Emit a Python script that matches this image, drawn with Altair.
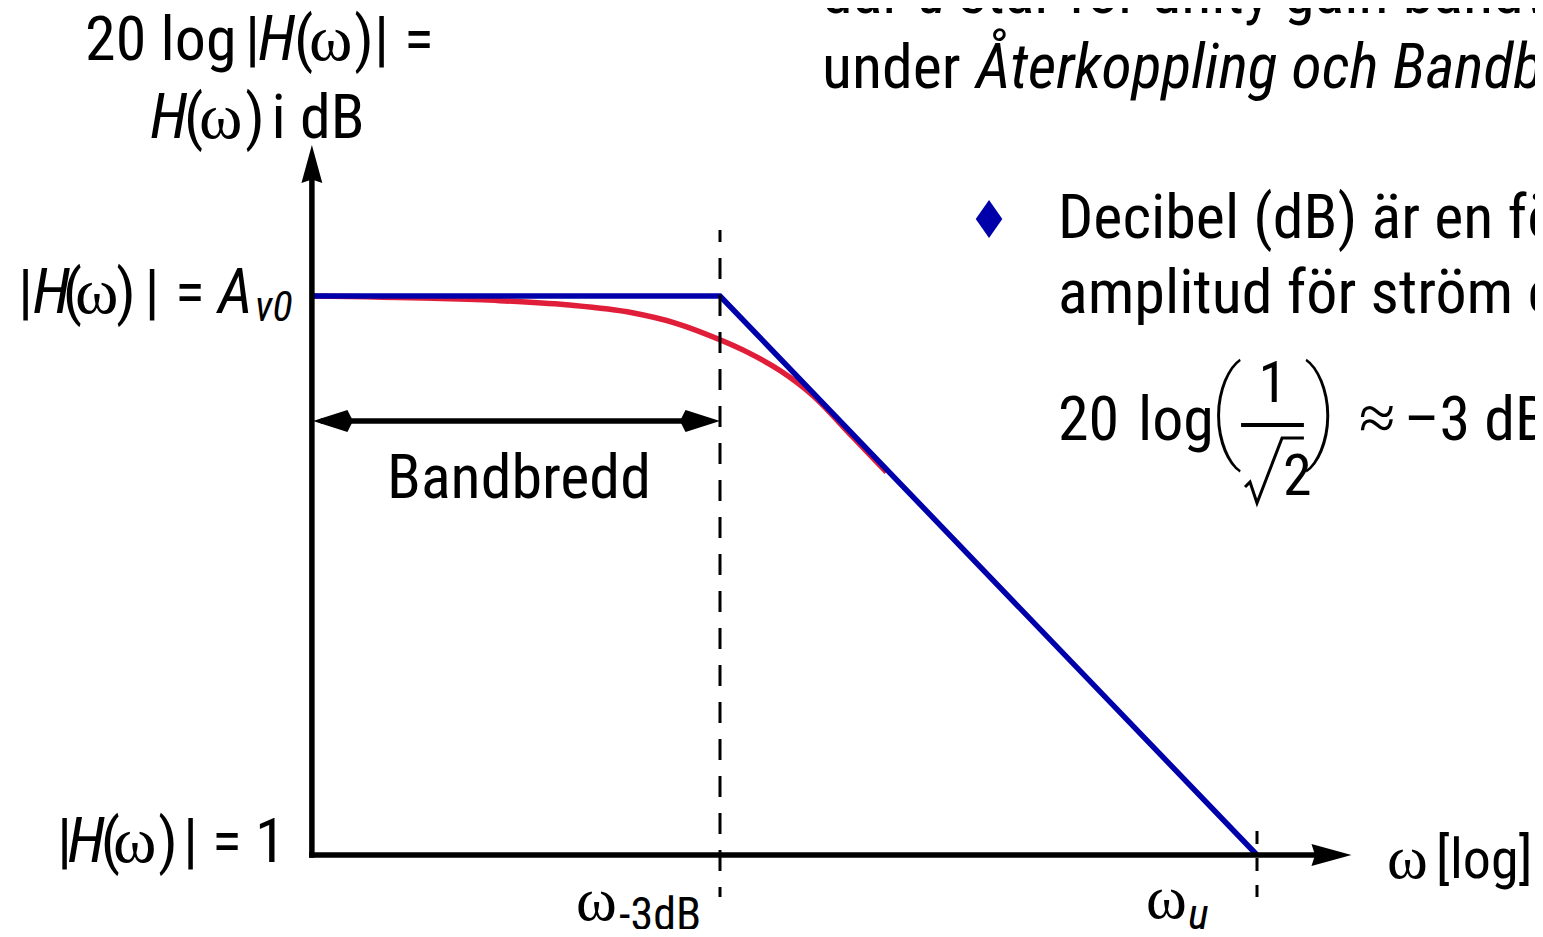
import altair as alt
import pandas as pd

# ---------------- values ----------------
# horizontal: decades of omega relative to omega_-3dB (logarithmic omega axis)
# vertical:   gain in dB
A_V0_DB = 60.0          # |H| = A_v0 (low-frequency gain)
OMEGA_3DB_DEC = 0.0     # omega_-3dB
OMEGA_U_DEC = 3.0       # omega_u (asymptote reaches 0 dB = |H| = 1)
AXIS_START_DEC = -2.28  # where the vertical axis stands

asym_dec = [AXIS_START_DEC, OMEGA_3DB_DEC, OMEGA_U_DEC]
asym_db = [A_V0_DB, A_V0_DB, 0.0]

real_dec = [-2.28, -1.60, -1.23, -0.86, -0.49, -0.25, 0.00, 0.15, 0.335, 0.52, 0.74, 0.93]
real_db = [60.0, 59.75, 59.5, 59.05, 58.2, 57.1, 55.3, 54.0, 52.0, 49.3, 44.9, 41.1]

BANDWIDTH_DB = 46.58    # height of the "Bandbredd" arrow
Y_AXIS_TOP_DB = 73.0
X_AXIS_END_DEC = 3.36

# ---------------- styling ----------------
BLUE = "#0000AA"
RED = "#E01E3A"
SANS = ("Liberation Sans Narrow, Roboto Condensed, Noto Sans Condensed, "
        "Noto Sans ExtraCondensed, DejaVu Sans Condensed, sans-serif")
SERIF = "Liberation Serif, DejaVu Serif, serif"

W, H = 1527, 921
XS = alt.Scale(domain=[-3.9777, 4.5531], nice=False, zero=False)
YS = alt.Scale(domain=[-7.943, 90.913], nice=False, zero=False)


def enc(**kw):
    base = dict(
        x=alt.X("x:Q", scale=XS, axis=None),
        y=alt.Y("y:Q", scale=YS, axis=None),
    )
    base.update(kw)
    return base


real_df = pd.DataFrame({"x": real_dec, "y": real_db})
asym_df = pd.DataFrame({"x": asym_dec, "y": asym_db})

real_line = alt.Chart(real_df).mark_line(color=RED, strokeWidth=5.5, interpolate="monotone").encode(**enc())
asym_line = alt.Chart(asym_df).mark_line(color=BLUE, strokeWidth=5.5, strokeJoin="miter").encode(**enc())

dash1 = alt.Chart(pd.DataFrame({"x": [OMEGA_3DB_DEC], "y": [67.08], "y2": [-4.51]})).mark_rule(
    color="black", strokeWidth=3, strokeDash=[21, 16], strokeDashOffset=9
).encode(**enc(y2="y2:Q"))
dash2 = alt.Chart(pd.DataFrame({"x": [OMEGA_U_DEC], "y": [2.58], "y2": [-4.51]})).mark_rule(
    color="black", strokeWidth=3, strokeDash=[13, 14]
).encode(**enc(y2="y2:Q"))

y_axis = alt.Chart(pd.DataFrame({"x": [AXIS_START_DEC], "y": [0.0], "y2": [Y_AXIS_TOP_DB]})).mark_rule(
    color="black", strokeWidth=5.5, strokeCap="square"
).encode(**enc(y2="y2:Q"))
x_axis = alt.Chart(pd.DataFrame({"x": [AXIS_START_DEC], "x2": [X_AXIS_END_DEC], "y": [0.0]})).mark_rule(
    color="black", strokeWidth=5.5, strokeCap="square"
).encode(**enc(x2="x2:Q"))
bw_line = alt.Chart(pd.DataFrame({"x": [AXIS_START_DEC + 0.05], "x2": [OMEGA_3DB_DEC - 0.05], "y": [BANDWIDTH_DB]})).mark_rule(
    color="black", strokeWidth=5.5
).encode(**enc(x2="x2:Q"))

UP = "M0,-1 L0.55,1 L0,0.82 L-0.55,1 Z"
RIGHT = "M1,0 L-1,-0.55 L-0.82,0 L-1,0.55 Z"
KITE_R = "M1,0 L-0.72,-0.55 L-1,0 L-0.72,0.55 Z"
KITE_L = "M-1,0 L0.72,-0.55 L1,0 L0.72,0.55 Z"
DIAMOND = "M0,-1 L0.7,0 L0,1 L-0.7,0 Z"


def head(x, y, shape, size, color="black"):
    return alt.Chart(pd.DataFrame({"x": [x], "y": [y]})).mark_point(
        shape=shape, filled=True, color=color, opacity=1, strokeWidth=0
    ).encode(**enc(size=alt.value(size)))


heads = [
    head(AXIS_START_DEC, 74.17, UP, 1444),
    head(3.416, 0.0, RIGHT, 1600),
    head(-2.162, BANDWIDTH_DB, KITE_L, 1600),
    head(-0.112, BANDWIDTH_DB, KITE_R, 1600),
    head(1.503, 68.26, DIAMOND, 1444, BLUE),
]

frac_bar = alt.Chart(pd.DataFrame({"x": [2.911], "x2": [3.262], "y": [46.15]})).mark_rule(
    color="black", strokeWidth=4
).encode(**enc(x2="x2:Q"))
radical = alt.Chart(pd.DataFrame({
    "i": [0, 1, 2, 3, 4],
    "x": [2.933, 2.961, 3.000, 3.140, 3.262],
    "y": [39.50, 40.04, 37.78, 44.76, 44.76],
})).mark_line(color="black", strokeWidth=3, strokeJoin="miter").encode(**enc(order="i:Q"))

# ---------------- annotation layout (text, x in decades, y in dB, kind, font size) ----------------
L1, L2, LA, L0 = 85.33, 76.96, 58.18, -0.751
ann = [
    ("20 log", -3.547, L1, "sans", 62), ("|", -2.654, L1, "sans", 62), ("H", -2.581, L1, "ital", 62),
    ("(", -2.380, L1, "sans", 62), ("ω", -2.296, L1, "serif", 66), (")", -2.045, L1, "sans", 62),
    ("|", -1.933, L1, "sans", 62), ("=", -1.765, L1, "sans", 62),
    ("H", -3.184, L2, "ital", 62), ("(", -2.994, L2, "sans", 62), ("ω", -2.911, L2, "serif", 66),
    (")", -2.654, L2, "sans", 62), ("i dB", -2.505, L2, "sans", 62),
    ("|", -3.922, LA, "sans", 62), ("H", -3.840, LA, "ital", 62), ("(", -3.672, LA, "sans", 62),
    ("ω", -3.603, LA, "serif", 66), (")", -3.374, LA, "sans", 62), ("|", -3.215, LA, "sans", 62),
    ("=", -3.045, LA, "sans", 62), ("A", -2.804, LA, "ital", 62), ("v0", -2.598, 57.32, "ital", 42),
    ("|", -3.704, L0, "sans", 62), ("H", -3.645, L0, "ital", 62), ("(", -3.460, L0, "sans", 62),
    ("ω", -3.391, L0, "serif", 66), (")", -3.140, L0, "sans", 62), ("|", -3.000, L0, "sans", 62),
    ("=", -2.838, L0, "sans", 62), ("1", -2.598, L0, "sans", 62),
    ("Bandbredd", -1.123, 38.32, "sans_c", 62),
    ("ω", -0.804, -6.977, "serif", 62), ("-3dB", -0.564, -8.0, "sans", 46),
    ("ω", 2.380, -6.762, "serif", 62), ("u", 2.615, -7.9, "ital", 44),
    ("ω", 3.726, -2.469, "serif", 62), ("[log]", 4.0, -2.469, "sans", 56),
    ("där", 0.570, 90.38, "sans", 62), ("u", 1.106, 90.38, "ital", 62),
    ("står för unity gain bandwidth", 1.330, 90.38, "sans", 62),
    ("under", 0.570, 82.33, "sans", 62), ("Återkoppling och Bandbredd", 1.430, 82.33, "ital", 62),
    ("Decibel (dB) är en förstärkning", 1.888, 66.23, "sans", 62),
    ("amplitud för ström eller spänning", 1.888, 58.18, "sans", 62),
    ("20", 1.888, 44.54, "sans", 62), ("log", 2.335, 44.54, "sans", 62),
    ("(", 2.732, 43.79, "paren", 112), (")", 3.262, 43.79, "paren", 112),
    ("1", 3.089, 48.62, "sans_c", 58), ("2", 3.145, 38.64, "sans", 58),
    ("≈", 3.570, 44.54, "serif", 66), ("–3 dB", 3.821, 44.54, "sans", 62),
]
ann_df = pd.DataFrame(ann, columns=["t", "x", "y", "kind", "s"])

KINDS = {
    "sans": dict(font=SANS, align="left"),
    "sans_c": dict(font=SANS, align="center"),
    "ital": dict(font=SANS, fontStyle="italic", align="left"),
    "serif": dict(font=SERIF, align="left"),
    "paren": dict(font="Roboto, Liberation Sans, sans-serif", fontWeight=100, align="left"),
}
texts = []
for k, props in KINDS.items():
    texts.append(
        alt.Chart(ann_df[ann_df.kind == k]).mark_text(
            color="black", baseline="alphabetic", **props
        ).encode(**enc(text="t:N", size=alt.Size("s:Q", scale=None, legend=None)))
    )

chart = alt.layer(
    real_line, asym_line, dash1, dash2, y_axis, x_axis, bw_line, *heads, frac_bar, radical, *texts
).properties(
    width=W, height=H, padding=0, autosize=alt.AutoSizeParams(type="none"), background="white"
).configure_view(stroke=None)

chart.save("out.html", embed_options={"renderer": "svg", "actions": False})
